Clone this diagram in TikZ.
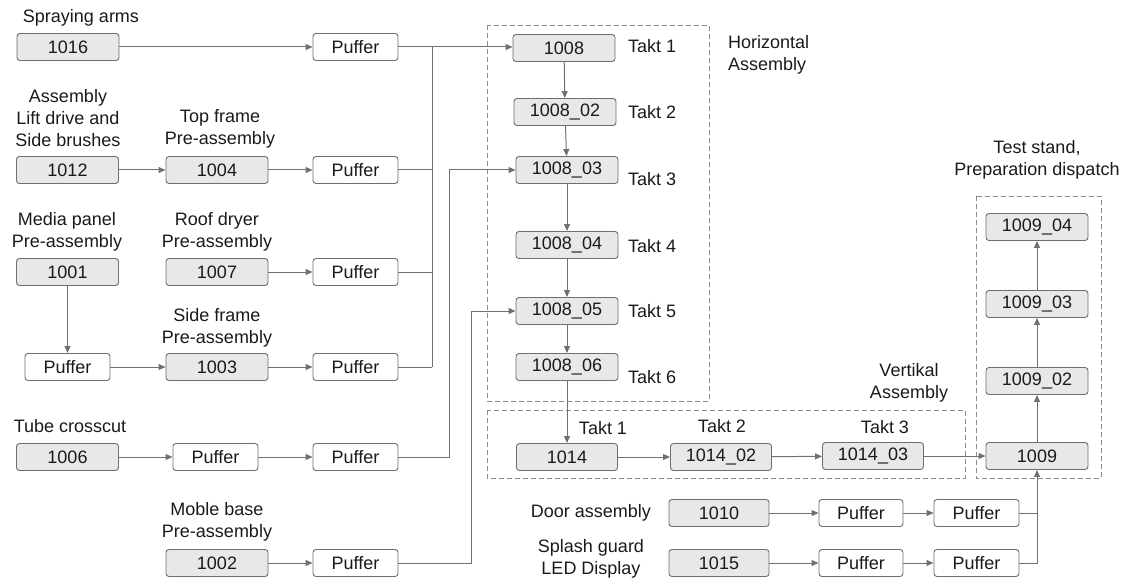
\documentclass[tikz,border=0pt]{standalone}
\usepackage{fontspec}
\setmainfont{Liberation Sans}
\usetikzlibrary{arrows.meta}
\definecolor{boxfill}{HTML}{E8E8E8}
\definecolor{boxline}{HTML}{6E6E6E}
\definecolor{conn}{HTML}{707070}
\definecolor{dash}{HTML}{8C8C8C}
\definecolor{txt}{HTML}{1A1A1A}
\tikzset{
  gbox/.style={draw=boxline, fill=boxfill, rounded corners=3pt, line width=0.9pt,
    minimum width=102pt, minimum height=27pt, inner sep=0pt, text=txt},
  pbox/.style={draw=boxline, fill=white, rounded corners=3pt, line width=0.9pt,
    minimum width=85pt, minimum height=27pt, inner sep=0pt, text=txt},
  lbl/.style={align=center, inner sep=0pt, text=txt},
  arr/.style={draw=conn, line width=1pt, -{Triangle[length=7pt,width=6pt]}},
  ln/.style={draw=conn, line width=1pt},
  grp/.style={draw=dash, line width=0.8pt, dash pattern=on 5pt off 3pt}
}
\begin{document}
\begin{tikzpicture}[x=1pt,y=-1pt,font=\fontsize{18}{22}\selectfont]
\useasboundingbox (0,0) rectangle (1128,583);
% group boxes
\draw[grp] (487,25) rectangle (709,401);
\draw[grp] (487,410) rectangle (965,478);
\draw[grp] (976,196) rectangle (1101,478);
% left nodes
\node[gbox] (a1016) at (68,47) {1016};
\node[pbox] (p1) at (355.5,47) {Puffer};
\node[gbox] (a1012) at (67.5,170) {1012};
\node[gbox] (a1004) at (217,170) {1004};
\node[pbox] (p2) at (355.5,170) {Puffer};
\node[gbox] (a1001) at (67.5,272) {1001};
\node[gbox] (a1007) at (217,272) {1007};
\node[pbox] (p3) at (355.5,272) {Puffer};
\node[pbox] (p4) at (67.5,367) {Puffer};
\node[gbox] (a1003) at (217,367) {1003};
\node[pbox] (p5) at (355.5,367) {Puffer};
\node[gbox] (a1006) at (67.5,457) {1006};
\node[pbox] (p6) at (215.5,457) {Puffer};
\node[pbox] (p7) at (355.5,457) {Puffer};
\node[gbox] (a1002) at (217,563) {1002};
\node[pbox] (p8) at (355.5,563) {Puffer};
% horizontal assembly
\node[gbox] (h1) at (564,48) {1008};
\node[gbox] (h2) at (565,112) {1008\_02};
\node[gbox] (h3) at (567,170) {1008\_03};
\node[gbox] (h4) at (567,245) {1008\_04};
\node[gbox] (h5) at (567,311) {1008\_05};
\node[gbox] (h6) at (567,367) {1008\_06};
\node[lbl,anchor=west] (tk1) at (628,46) {Takt 1};
\node[lbl,anchor=west] (tk2) at (628,112) {Takt 2};
\node[lbl,anchor=west] (tk3) at (628,179) {Takt 3};
\node[lbl,anchor=west] (tk4) at (628,246) {Takt 4};
\node[lbl,anchor=west] (tk5) at (628,311) {Takt 5};
\node[lbl,anchor=west] (tk6) at (628,377) {Takt 6};
% vertical assembly
\node[gbox,minimum width=101pt] (v1) at (567,457) {1014};
\node[gbox,minimum width=101pt] (v2) at (721,457) {1014\_02};
\node[gbox,minimum width=101pt] (v3) at (873,456) {1014\_03};
\node[lbl] (vt1) at (603,428) {Takt 1};
\node[lbl] (vt2) at (722,426) {Takt 2};
\node[lbl] (vt3) at (885,427) {Takt 3};
% test stand
\node[gbox] (t1) at (1037,456) {1009};
\node[gbox] (t2) at (1037,381) {1009\_02};
\node[gbox] (t3) at (1037,304) {1009\_03};
\node[gbox] (t4) at (1037,227) {1009\_04};
% bottom rows
\node[gbox,minimum width=100pt] (d1010) at (719,513) {1010};
\node[pbox,minimum width=84pt] (dp1) at (861,513) {Puffer};
\node[pbox] (dp2) at (976.5,513) {Puffer};
\node[gbox,minimum width=100pt] (d1015) at (719,563) {1015};
\node[pbox,minimum width=84pt] (sp1) at (861,563) {Puffer};
\node[pbox] (sp2) at (976.5,563) {Puffer};
% labels
\node[lbl] (l1) at (81,18) {Spraying arms};
\node[lbl] (l2) at (68,118) {Assembly\\Lift drive and\\Side brushes};
\node[lbl] (l3) at (220,129) {Top frame\\Pre-assembly};
\node[lbl] (l4) at (67,232) {Media panel\\Pre-assembly};
\node[lbl] (l5) at (217,232) {Roof dryer\\Pre-assembly};
\node[lbl] (l6) at (217,328) {Side frame\\Pre-assembly};
\node[lbl] (l7) at (70,426) {Tube crosscut};
\node[lbl] (l8) at (217,522) {Moble base\\Pre-assembly};
\node[lbl,align=left,anchor=west] (l9) at (728,55) {Horizontal\\Assembly};
\node[lbl] (l10) at (909,383) {Vertikal\\Assembly};
\node[lbl] (l11) at (1037,160) {Test stand,\\Preparation dispatch};
\node[lbl] (l12) at (591,513) {Door assembly};
\node[lbl] (l13) at (591,559) {Splash guard\\LED Display};
% bus coordinates
\coordinate (bus) at (432,0);
\coordinate (c1) at (449,0);
\coordinate (c2) at (471,0);
% connectors left
\draw[arr] (a1016) -- (p1);
\draw[arr] (a1012) -- (a1004);
\draw[arr] (a1004) -- (p2);
\draw[arr] (a1007) -- (p3);
\draw[arr] (a1001) -- (p4);
\draw[arr] (p4) -- (a1003);
\draw[arr] (a1003) -- (p5);
\draw[arr] (a1006) -- (p6);
\draw[arr] (p6) -- (p7);
\draw[arr] (a1002) -- (p8);
\draw[ln] (p1.east) -- (p1.east -| bus);
\draw[arr] (p1.east -| bus) -- (h1.west |- p1.east);
\draw[ln] (p2.east) -- (p2.east -| bus);
\draw[ln] (p3.east) -- (p3.east -| bus);
\draw[ln] (p5.east) -- (p5.east -| bus);
\draw[ln] (p1.east -| bus) -- (p5.east -| bus);
\draw[arr] (p7.east) -- (p7.east -| c1) |- (h3.west);
\draw[arr] (p8.east) -- (p8.east -| c2) |- (h5.west);
% horizontal chain
\draw[arr] (h1) -- (h2);
\draw[arr] (h2) -- (h3);
\draw[arr] (h3) -- (h4);
\draw[arr] (h4) -- (h5);
\draw[arr] (h5) -- (h6);
\draw[arr] (h6) -- (v1);
% vertical chain
\draw[arr] (v1) -- (v2);
\draw[arr] (v2) -- (v3);
\draw[arr] (v3) -- (t1);
\draw[arr] (t1) -- (t2);
\draw[arr] (t2) -- (t3);
\draw[arr] (t3) -- (t4);
% bottom
\draw[arr] (d1010) -- (dp1);
\draw[arr] (dp1) -- (dp2);
\draw[arr] (d1015) -- (sp1);
\draw[arr] (sp1) -- (sp2);
\draw[ln] (dp2.east) -- (dp2.east -| t1.south);
\draw[arr] (sp2.east) -| (t1.south);
\end{tikzpicture}
\end{document}
